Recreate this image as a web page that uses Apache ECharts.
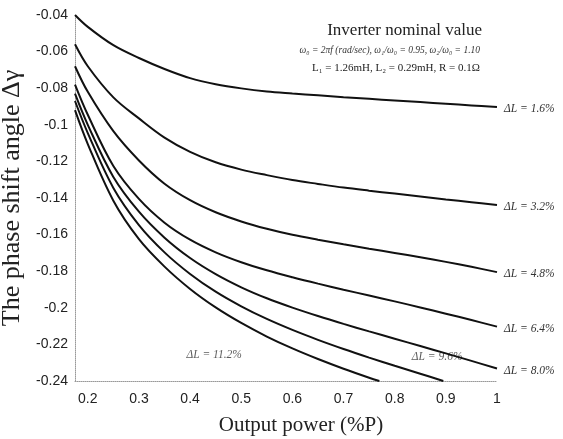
<!DOCTYPE html>
<html>
<head>
<meta charset="utf-8">
<script src="https://cdn.jsdelivr.net/npm/echarts@6/dist/echarts.min.js"></script>
<style>
  html, body { margin: 0; padding: 0; background: #fff; }
  #chart { width: 563px; height: 439px; }
</style>
</head>
<body>
<div id="chart"></div>
<script>
// output power (p.u.) sampled along each curve
const powerX = [0.175, 0.2, 0.25, 0.3, 0.35, 0.4, 0.45, 0.5, 0.55, 0.6, 0.65, 0.7, 0.75, 0.8, 0.85, 0.9, 0.95, 1.0]

// phase shift angle for each inductance deviation
const dl16 = [-0.040, -0.0465, -0.0565, -0.0635, -0.0695, -0.0745, -0.0778, -0.0801, -0.0818, -0.0829, -0.0839, -0.0849, -0.0858, -0.0867, -0.0876, -0.0885, -0.0894, -0.0903]
const dl32 = [-0.056, -0.068, -0.085, -0.0965, -0.107, -0.1148, -0.1205, -0.1245, -0.1275, -0.1302, -0.1323, -0.1343, -0.136, -0.1376, -0.1392, -0.1408, -0.1423, -0.1438]
const dl48 = [-0.068, -0.082, -0.1035, -0.1195, -0.1322, -0.1412, -0.1478, -0.1528, -0.1568, -0.1601, -0.1628, -0.1653, -0.1677, -0.170, -0.1724, -0.1749, -0.1776, -0.1805]
const dl64 = [-0.078, -0.0945, -0.1225, -0.1405, -0.1535, -0.1628, -0.1697, -0.1751, -0.1795, -0.1833, -0.1868, -0.1901, -0.1933, -0.1965, -0.1998, -0.2032, -0.2067, -0.2103]
const dl80 = [-0.083, -0.100, -0.1285, -0.1475, -0.1617, -0.1728, -0.1816, -0.1888, -0.1948, -0.1999, -0.2045, -0.2088, -0.2129, -0.2169, -0.2209, -0.2249, -0.229, -0.2332]
const dl96 = [-0.087, -0.1045, -0.1345, -0.1548, -0.1697, -0.1815, -0.1912, -0.1992, -0.2061, -0.2121, -0.2175, -0.2225, -0.2272, -0.2317, -0.236]
const dl112 = [-0.092, -0.1105, -0.1415, -0.1625, -0.1775, -0.1897, -0.1998, -0.2083, -0.2157, -0.2222, -0.228, -0.2333, -0.2382]
// where the two lowest curves leave the plot
const dl96End = [0.895, -0.24]
const dl112End = [0.77, -0.24]

const curveNames = ['ΔL = 1.6%', 'ΔL = 3.2%', 'ΔL = 4.8%', 'ΔL = 6.4%', 'ΔL = 8.0%', 'ΔL = 9.6%', 'ΔL = 11.2%']
const xTicks = [0.2, 0.3, 0.4, 0.5, 0.6, 0.7, 0.8, 0.9, 1]
// labels of the two lower curves sit inside the plot
const innerLabelX = [0.883, 0.447]
const innerLabelY = [-0.2268, -0.2257]

function pairs(ys, end) {
  const out = ys.map((y, i) => [powerX[i], y])
  if (end) out.push(end)
  return out
}

const curves = [
  pairs(dl16), pairs(dl32), pairs(dl48), pairs(dl64), pairs(dl80),
  pairs(dl96, dl96End), pairs(dl112, dl112End)
]

const serif = '"Liberation Serif", "DejaVu Serif", serif'
const sans = '"Liberation Sans", Arial, sans-serif'

const chart = echarts.init(document.getElementById('chart'))

const series = curves.map((d, i) => ({
  name: curveNames[i],
  type: 'line',
  data: d,
  smooth: 0.35,
  showSymbol: false,
  clip: true,
  lineStyle: { color: '#111', width: 2 },
  endLabel: {
    show: i < 5,
    formatter: curveNames[i],
    distance: 7,
    offset: [0, 2],
    fontFamily: serif,
    fontStyle: 'italic',
    fontSize: 11.5,
    color: '#333'
  },
  emphasis: { disabled: true }
}))

series.push({
  type: 'scatter',
  data: innerLabelX.map((x, i) => [x, innerLabelY[i], curveNames[5 + i]]),
  symbolSize: 0,
  label: {
    show: true,
    position: 'inside',
    formatter: p => p.data[2],
    fontFamily: serif,
    fontStyle: 'italic',
    fontSize: 11.5,
    color: '#333'
  },
  silent: true
})

chart.setOption({
  animation: false,
  backgroundColor: '#fff',
  title: [
    {
      text: 'Inverter nominal value',
      right: 76, top: 17,
      textStyle: { fontFamily: serif, fontWeight: 'normal', fontSize: 17, color: '#222' }
    },
    {
      text: 'ω₀ = 2πf (rad/sec), ω₁/ω₀ = 0.95, ω₂/ω₀ = 1.10',
      right: 78, top: 40,
      textStyle: { fontFamily: serif, fontStyle: 'italic', fontWeight: 'normal', fontSize: 9.5, color: '#333' }
    },
    {
      text: 'L₁ = 1.26mH, L₂ = 0.29mH, R = 0.1Ω',
      right: 78, top: 58,
      textStyle: { fontFamily: serif, fontWeight: 'normal', fontSize: 11, color: '#222' }
    }
  ],
  grid: { left: 75, right: 66, top: 15, bottom: 58, outerBoundsMode: 'none' },
  xAxis: {
    type: 'value',
    min: 0.175,
    max: 1,
    name: 'Output power (%P)',
    nameLocation: 'middle',
    nameGap: 34,
    nameTextStyle: { fontFamily: serif, fontSize: 21, color: '#222', padding: [0, 0, 0, 30] },
    axisLine: { show: true, lineStyle: { color: '#999', type: 'dotted', width: 1 } },
    axisTick: { show: false },
    splitLine: { show: false },
    axisLabel: {
      customValues: xTicks,
      margin: 11,
      fontFamily: sans,
      fontSize: 14,
      color: '#222',
      formatter: v => String(v)
    }
  },
  yAxis: {
    type: 'value',
    min: -0.24,
    max: -0.04,
    interval: 0.02,
    name: 'The phase shift angle Δγ',
    nameLocation: 'middle',
    nameRotate: 90,
    nameGap: 43,
    nameTextStyle: { fontFamily: serif, fontSize: 26, color: '#222' },
    axisLine: { show: true, lineStyle: { color: '#999', type: 'dotted', width: 1 } },
    axisTick: { show: false },
    splitLine: { show: false },
    axisLabel: {
      margin: 7,
      fontFamily: sans,
      fontSize: 14,
      color: '#222',
      formatter: v => String(Math.round(v * 100) / 100)
    }
  },
  series: series
})
</script>
</body>
</html>
